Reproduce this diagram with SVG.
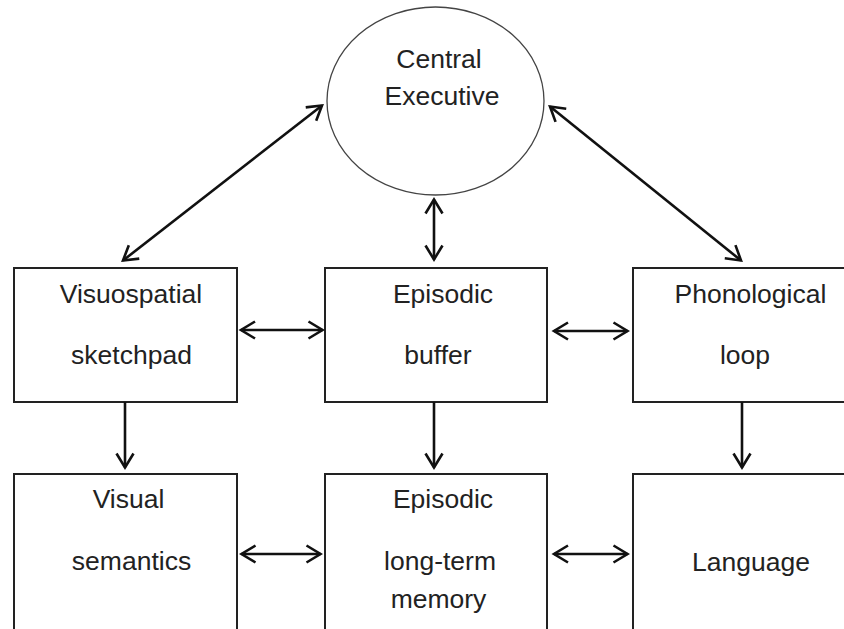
<svg xmlns="http://www.w3.org/2000/svg" width="844" height="629" viewBox="0 0 844 629">
  <defs>
    <style>
      .box { fill: #ffffff; stroke: #222222; stroke-width: 2; }
      .oval { fill: #ffffff; stroke: #444444; stroke-width: 1.3; }
      .label { font-family: "Liberation Sans", Arial, Helvetica, sans-serif; font-size: 26.5px; fill: #222222; text-anchor: middle; }
      .link { fill: none; stroke: #111111; stroke-width: 2.6; marker-start: url(#chev); marker-end: url(#chev); }
      .oneway { fill: none; stroke: #111111; stroke-width: 2.6; marker-end: url(#chev); }
    </style>
    <!-- open chevron arrowhead, reversed at the start of two-way links -->
    <marker id="chev" markerUnits="userSpaceOnUse" viewBox="-20 -15 30 30" markerWidth="30" markerHeight="30" refX="0" refY="0" orient="auto-start-reverse">
      <path d="M -14 -8.5 L 0 0 L -14 8.5" fill="none" stroke="#111111" stroke-width="2.6" stroke-linejoin="miter"/>
    </marker>
  </defs>

  <rect width="844" height="629" fill="#ffffff"/>

  <!-- Central executive -->
  <g id="central-executive">
    <ellipse class="oval" cx="435.5" cy="101" rx="108.5" ry="94"/>
    <text class="label" x="439" y="68">Central</text>
    <text class="label" x="442" y="104.5">Executive</text>
  </g>

  <!-- Middle row: slave systems -->
  <g id="visuospatial-sketchpad">
    <rect class="box" x="14" y="268" width="223" height="134"/>
    <text class="label" x="131" y="303">Visuospatial</text>
    <text class="label" x="131.5" y="364">sketchpad</text>
  </g>
  <g id="episodic-buffer">
    <rect class="box" x="325" y="268" width="222" height="134"/>
    <text class="label" x="443" y="303">Episodic</text>
    <text class="label" x="438" y="364">buffer</text>
  </g>
  <g id="phonological-loop">
    <rect class="box" x="633" y="268" width="230" height="134"/>
    <text class="label" x="750.5" y="303">Phonological</text>
    <text class="label" x="745" y="364">loop</text>
  </g>

  <!-- Bottom row: long-term stores -->
  <g id="visual-semantics">
    <rect class="box" x="14" y="474" width="223" height="170"/>
    <text class="label" x="128.5" y="508">Visual</text>
    <text class="label" x="131.5" y="570">semantics</text>
  </g>
  <g id="episodic-ltm">
    <rect class="box" x="325" y="474" width="222" height="170"/>
    <text class="label" x="443" y="508">Episodic</text>
    <text class="label" x="440" y="570">long-term</text>
    <text class="label" x="438.5" y="608">memory</text>
  </g>
  <g id="language">
    <rect class="box" x="633" y="474" width="230" height="170"/>
    <text class="label" x="751" y="571">Language</text>
  </g>

  <!-- Connectors -->
  <g id="connectors">
    <!-- executive to slave systems -->
    <line class="link" x1="322" y1="105.5" x2="123" y2="260.5"/>
    <line class="link" x1="434" y1="199.5" x2="434" y2="259.5"/>
    <line class="link" x1="550" y1="106.5" x2="741" y2="260.5"/>
    <!-- links within the middle row -->
    <line class="link" x1="241" y1="330" x2="322.5" y2="330"/>
    <line class="link" x1="554" y1="331" x2="627.5" y2="331"/>
    <!-- middle row down to long-term stores -->
    <line class="oneway" x1="125" y1="402" x2="125" y2="467.5"/>
    <line class="oneway" x1="434" y1="402" x2="434" y2="467.5"/>
    <line class="oneway" x1="742" y1="402" x2="742" y2="467.5"/>
    <!-- links within the bottom row -->
    <line class="link" x1="241.5" y1="554" x2="320.5" y2="554"/>
    <line class="link" x1="554" y1="554" x2="627.5" y2="554"/>
  </g>
</svg>
